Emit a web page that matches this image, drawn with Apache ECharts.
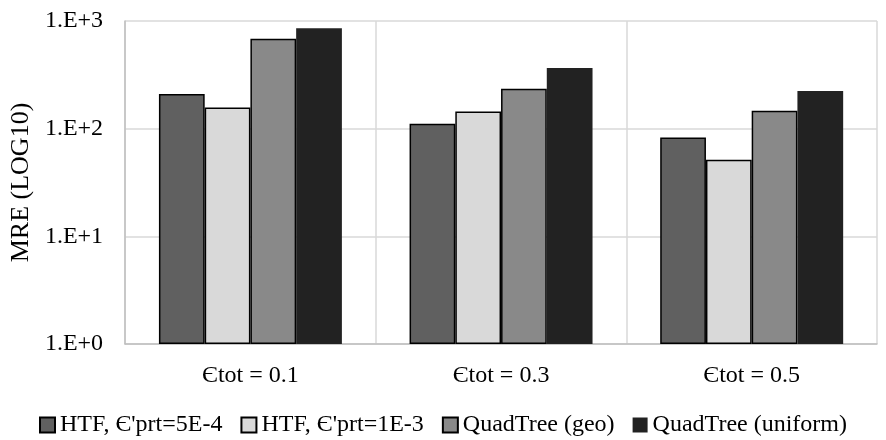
<!DOCTYPE html>
<html>
<head>
<meta charset="utf-8">
<script src="https://cdn.jsdelivr.net/npm/echarts@6/dist/echarts.min.js"></script>
<style>html,body{margin:0;padding:0;background:#fff}#c{width:886px;height:440px}</style>
</head>
<body>
<div id="c"></div>
<script>
const categories = ['Єtot = 0.1', 'Єtot = 0.3', 'Єtot = 0.5'];
const seriesNames = ["HTF, Є'prt=5E-4", "HTF, Є'prt=1E-3", 'QuadTree (geo)', 'QuadTree (uniform)'];
const htf5e4 = [210, 111, 83];
const htf1e3 = [157, 144, 51.5];
const quadGeo = [685, 235, 147];
const quadUniform = [855, 366, 224];
const yTickLabels = ['1.E+0', '1.E+1', '1.E+2', '1.E+3'];
const colors = ['#606060', '#d9d9d9', '#898989', '#222222'];
const values = [htf5e4, htf1e3, quadGeo, quadUniform];

const font = 'Liberation Serif, Times New Roman, serif';
const chart = echarts.init(document.getElementById('c'));
chart.setOption({
  animation: false,
  textStyle: { fontFamily: font },
  grid: { left: 125, right: 9, top: 21, bottom: 96 },
  legend: {
    top: 408,
    left: 'center',
    icon: 'rect',
    itemWidth: 15,
    itemHeight: 15,
    itemGap: 18,
    textStyle: { fontFamily: font, fontSize: 24, color: '#000' },
    data: seriesNames
  },
  xAxis: {
    type: 'category',
    data: categories,
    axisLine: { lineStyle: { color: '#bfbfbf', width: 1.5 } },
    axisTick: { show: false },
    splitLine: { show: true, lineStyle: { color: '#d9d9d9', width: 1.5 } },
    axisLabel: { fontFamily: font, fontSize: 24, color: '#000', margin: 20 }
  },
  yAxis: {
    type: 'log',
    logBase: 10,
    min: 1,
    max: 1000,
    name: 'MRE (LOG10)',
    nameLocation: 'middle',
    nameRotate: 90,
    nameGap: 89,
    nameTextStyle: { fontFamily: font, fontSize: 26, color: '#000' },
    axisLine: { show: true, lineStyle: { color: '#bfbfbf', width: 1.5 } },
    axisTick: { show: false },
    splitLine: { show: true, lineStyle: { color: '#d9d9d9', width: 1.5 } },
    axisLabel: {
      fontFamily: font, fontSize: 24, color: '#000', margin: 22,
      formatter: function (v) { return yTickLabels[Math.round(Math.log10(v))]; }
    }
  },
  series: values.map(function (vals, i) {
    return {
      name: seriesNames[i],
      type: 'bar',
      data: vals,
      barGap: '0%',
      barCategoryGap: '27%',
      itemStyle: { color: colors[i], borderColor: '#000', borderWidth: i === 3 ? 0 : 1.5 }
    };
  })
});
</script>
</body>
</html>
